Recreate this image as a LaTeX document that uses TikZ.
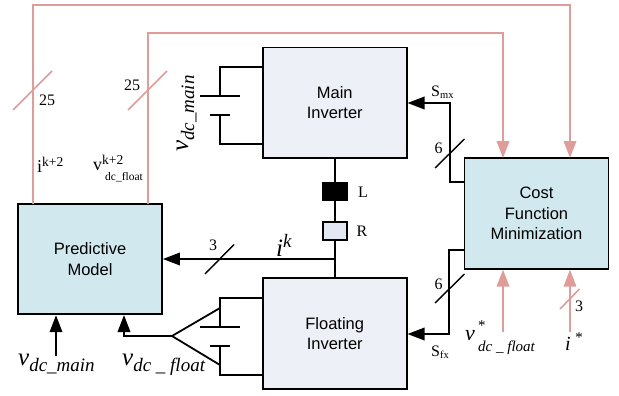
\documentclass[tikz,border=0pt]{standalone}
\usepackage{amsmath}
\usepackage{fontspec}
\setmainfont{Liberation Serif}
\setsansfont{Liberation Sans}
\usetikzlibrary{calc, arrows.meta}
\definecolor{pinkline}{HTML}{E09C98}
\definecolor{modelfill}{HTML}{D0E8EE}
\definecolor{invfill}{HTML}{EDF0F6}
\definecolor{resfill}{HTML}{E2E7F3}
\newcommand{\fsz}[1]{\fontsize{#1}{#1}\selectfont}
\tikzset{>={Triangle[length=17pt,width=12.5pt]}}
\tikzset{
  blockbox/.style={draw=black, line width=1.8pt, minimum width=144pt, minimum height=110.5pt, inner sep=0pt, align=center, font=\sffamily\fontsize{16.5}{20.5}\selectfont},
  modelbox/.style={blockbox, fill=modelfill},
  invbox/.style={blockbox, fill=invfill},
  wire/.style={line width=1.8pt},
  signal/.style={line width=2pt, draw=pinkline},
  bus/.style={line width=1.4pt},
  buspink/.style={line width=1.6pt, draw=pinkline},
  lbl/.style={inner sep=0pt, font=\fsz{16}},
  mathlbl/.style={inner sep=0pt, font=\fsz{25}}
}
\begin{document}
\begin{tikzpicture}[x=1pt,y=-1pt]
\useasboundingbox (0,0) rectangle (619,396);
% blocks
\node[invbox] (maininv) at (334.75,102.75) {Main\\Inverter};
\node[invbox] (floatinv) at (334.75,333.5) {Floating\\Inverter};
\node[modelbox] (predmodel) at (90,259) {Predictive\\Model};
\node[modelbox] (costfn) at (536.5,213.5) {Cost\\Function\\Minimization};
\node[draw=black, line width=1.8pt, fill=black, minimum width=24pt, minimum height=17pt, inner sep=0pt] (indL) at (335,191.5) {};
\node[draw=black, line width=1.8pt, fill=resfill, minimum width=24pt, minimum height=18pt, inner sep=0pt] (resR) at (335,231) {};
% L-R branch
\coordinate (junc) at (335,259);
\draw[wire] (maininv.south -| indL) -- (indL);
\draw[wire] (indL) -- (resR);
\draw[wire] (resR) -- (floatinv.north -| resR);
\draw[wire, ->] (junc) -- (junc -| predmodel.east);
% feedback to cost function
\coordinate (outerA) at (33,204);
\coordinate (outerB) at (33,5);
\coordinate (outerC) at (570,5);
\coordinate (outerD) at (570,158);
\coordinate (innerA) at (148,204);
\coordinate (innerB) at (148,33);
\coordinate (innerC) at (503,33);
\coordinate (innerD) at (503,158);
\draw[signal, ->] (outerA)--(outerB)--(outerC)--(outerD);
\draw[signal, ->] (innerA)--(innerB)--(innerC)--(innerD);
% switching signals
\coordinate (smxA) at (464.5,182);
\coordinate (smxB) at (450,182);
\coordinate (smxC) at (450,103);
\coordinate (smxD) at (407.5,103);
\coordinate (sfxA) at (464.5,250);
\coordinate (sfxB) at (449,250);
\coordinate (sfxC) at (449,334);
\coordinate (sfxD) at (407.5,334);
\draw[wire, ->] (smxA)--(smxB)--(smxC)--(smxD);
\draw[wire, ->] (sfxA)--(sfxB)--(sfxC)--(sfxD);
% main battery
\coordinate (mbatA) at (262,67);
\coordinate (mbatB) at (220,67);
\coordinate (mbatC) at (220,96);
\coordinate (mbatD) at (220,115);
\coordinate (mbatE) at (220,144);
\coordinate (mbatF) at (262,144);
\draw[wire] (mbatA)--(mbatB)--(mbatC);
\draw[wire] (mbatD)--(mbatE)--(mbatF);
\draw[wire] ($(mbatC)+(-20,0)$)--($(mbatC)+(20,0)$);
\draw[wire] ($(mbatD)+(-10,0)$)--($(mbatD)+(10,0)$);
% floating battery
\coordinate (fbatA) at (262,298);
\coordinate (fbatB) at (220,298);
\coordinate (fbatC) at (220,327);
\coordinate (fbatD) at (220,346);
\coordinate (fbatE) at (220,375);
\coordinate (fbatF) at (262,375);
\coordinate (fbatTop) at (220,308);
\coordinate (fbatBot) at (220,365);
\coordinate (fork) at (172,336);
\coordinate (forkEnd) at (124,336);
\coordinate (forkUp) at (124,315);
\draw[wire] (fbatA)--(fbatB)--(fbatC);
\draw[wire] (fbatD)--(fbatE)--(fbatF);
\draw[wire] ($(fbatC)+(-20,0)$)--($(fbatC)+(20,0)$);
\draw[wire] ($(fbatD)+(-10,0)$)--($(fbatD)+(10,0)$);
\draw[wire] (fbatTop)--(fork)--(fbatBot);
\draw[wire, ->] (fork)--(forkEnd)--(forkUp);
% inputs from below
\coordinate (vmainIn) at (56,356);
\coordinate (vrefIn) at (503,332);
\coordinate (irefIn) at (570,332);
\draw[wire, ->] (vmainIn)--(vmainIn |- predmodel.south);
\draw[signal, ->] (vrefIn)--(vrefIn |- costfn.south);
\draw[signal, ->] (irefIn)--(irefIn |- costfn.south);
% bus slashes
\draw[buspink] (13,110)--(52,71);
\draw[buspink] (128,110)--(167,71);
\draw[buspink] (560,309)--(579.5,289);
\draw[bus] (205,274)--(234,244.5);
\draw[bus] (435,168)--(464.5,139);
\draw[bus] (435,303)--(464.5,274);
% labels
\node[lbl] (n25a) at (47,100) {25};
\node[lbl] (n25b) at (132,85) {25};
\node[lbl] (n3a) at (213,245) {3};
\node[lbl] (n6a) at (438.5,148.5) {6};
\node[lbl] (n6b) at (438.5,284) {6};
\node[lbl] (n3b) at (579,306) {3};
\node[lbl] (labL) at (363,192) {L};
\node[lbl] (labR) at (362,231) {R};
\node[lbl, anchor=base west, font=\fsz{18}] (labi) at (37,172) {i\raisebox{6pt}{\fsz{13.5}k+2}};
\node[lbl, anchor=base west, font=\fsz{18}] (labv) at (93,170) {v\raisebox{6pt}{\fsz{13.5}k+2}};
\node[lbl, anchor=base west] (labvsub) at (105,180) {\fsz{11.5}dc\_float};
\node[lbl, anchor=base west] (smx) at (431,96) {S\raisebox{-2pt}{\fsz{10.5}mx}};
\node[lbl, anchor=base west] (sfx) at (431,356) {S\raisebox{-2pt}{\fsz{10.5}fx}};
\node[mathlbl, rotate=90, anchor=base west, font=\fsz{25}\itshape] (vmain) at (188,152) {v\raisebox{-6pt}{\fsz{19}dc\_main}};
\node[mathlbl, anchor=base west, font=\fsz{25}\itshape] (ik) at (276,256) {i\raisebox{9pt}{\fsz{19}k}};
\node[mathlbl, anchor=base west, font=\fsz{25}\itshape] (vmainb) at (18,365) {v\raisebox{-6pt}{\fsz{19}dc\_main}};
\node[mathlbl, anchor=base west, font=\fsz{25}\itshape] (vfloat) at (122,365) {v\raisebox{-6pt}{\fsz{19}dc \_ float}};
\node[mathlbl, anchor=base west, font=\fsz{22}\itshape] (vref) at (465,340) {v\raisebox{10pt}{\fsz{15}\,*}};
\node[lbl, anchor=base west, font=\fsz{15}\itshape] (vrefsub) at (478,351) {dc \_ float};
\node[mathlbl, anchor=base west, font=\fsz{20}\itshape] (iref) at (565,350) {i\raisebox{8pt}{\fsz{15} *}};
\end{tikzpicture}
\end{document}
